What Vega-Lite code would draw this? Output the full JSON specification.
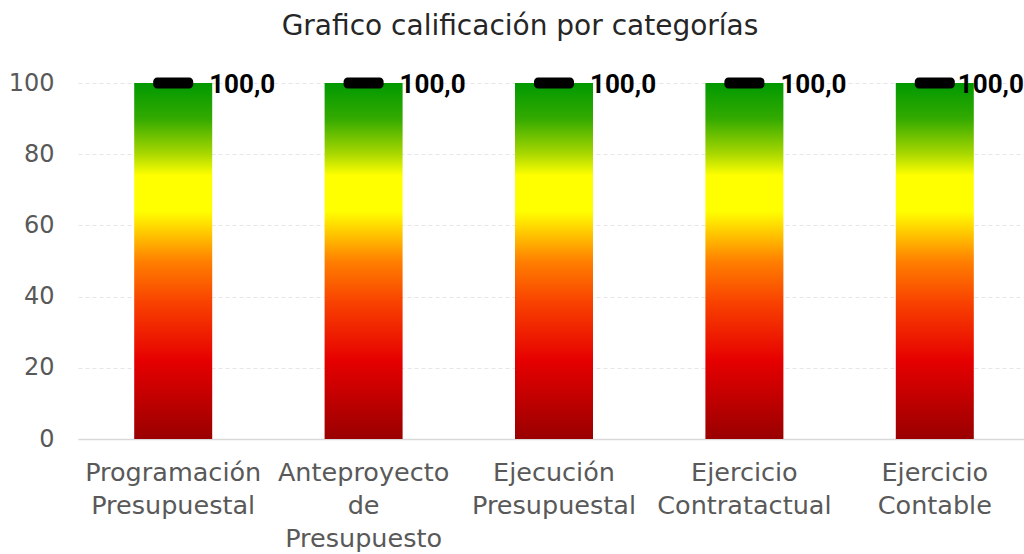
{
  "$schema": "https://vega.github.io/schema/vega-lite/v6.json",
  "autosize": "none",
  "width": 946,
  "height": 356,
  "padding": {"left": 78, "top": 83, "right": 0, "bottom": 115},
  "background": "white",
  "title": {
    "text": "Grafico calificación por categorías",
    "font": "DejaVu Sans",
    "fontSize": 28,
    "fontWeight": "normal",
    "color": "#262626",
    "anchor": "middle",
    "dx": -31,
    "offset": 30
  },
  "data": {
    "values": [
      {"categoria": "Programación Presupuestal", "calificacion": 100, "etiqueta": "100,0"},
      {"categoria": "Anteproyecto de Presupuesto", "calificacion": 100, "etiqueta": "100,0"},
      {"categoria": "Ejecución Presupuestal", "calificacion": 100, "etiqueta": "100,0"},
      {"categoria": "Ejercicio Contratactual", "calificacion": 100, "etiqueta": "100,0"},
      {"categoria": "Ejercicio Contable", "calificacion": 100, "etiqueta": "100,0"}
    ]
  },
  "config": {
    "view": {"stroke": null},
    "axis": {"labelFont": "DejaVu Sans", "labelColor": "#595959", "labelFontSize": 24, "title": null}
  },
  "encoding": {
    "x": {
      "field": "categoria",
      "type": "nominal",
      "sort": null,
      "scale": {"paddingInner": 0, "paddingOuter": 0, "range": [0, 952]},
      "axis": {
        "labelAngle": 0,
        "labelExpr": "split(datum.label, ' ')",
        "labelLineHeight": 33,
        "labelPadding": 21,
        "labelBaseline": "top",
        "labelFontSize": 25.5,
        "ticks": false,
        "domainColor": "#d9d9d9",
        "domainWidth": 1.5,
        "grid": false,
        "labelLimit": 0
      }
    },
    "y": {
      "field": "calificacion",
      "type": "quantitative",
      "scale": {"domain": [0, 100], "nice": false},
      "axis": {
        "values": [0, 20, 40, 60, 80, 100],
        "ticks": false,
        "domain": false,
        "labelPadding": 24,
        "gridColor": "#e6e6e6",
        "gridDash": [4, 3],
        "gridWidth": 1
      }
    }
  },
  "layer": [
    {
      "mark": {
        "type": "bar",
        "size": 78,
        "color": {
          "gradient": "linear",
          "x1": 0, "y1": 0, "x2": 0, "y2": 1,
          "stops": [
            {"offset": 0, "color": "#009900"},
            {"offset": 0.1, "color": "#33aa00"},
            {"offset": 0.2, "color": "#aad800"},
            {"offset": 0.26, "color": "#ffff00"},
            {"offset": 0.36, "color": "#ffff00"},
            {"offset": 0.43, "color": "#ffc000"},
            {"offset": 0.5, "color": "#ff8000"},
            {"offset": 0.62, "color": "#f84000"},
            {"offset": 0.78, "color": "#e60000"},
            {"offset": 1, "color": "#990000"}
          ]
        }
      }
    },
    {
      "mark": {"type": "tick", "size": 40, "thickness": 11, "cornerRadius": 4, "color": "#000000", "opacity": 1}
    },
    {
      "transform": [{"filter": "datum.categoria !== 'Ejercicio Contable'"}],
      "mark": {"type": "text", "align": "left", "baseline": "middle", "dx": 36, "dy": 2, "font": "Roboto", "fontSize": 26, "fontWeight": "bold", "color": "#000000"},
      "encoding": {"text": {"field": "etiqueta"}}
    },
    {
      "transform": [{"filter": "datum.categoria === 'Ejercicio Contable'"}],
      "mark": {"type": "text", "align": "left", "baseline": "middle", "dx": 23, "dy": 2, "font": "Roboto", "fontSize": 26, "fontWeight": "bold", "color": "#000000"},
      "encoding": {"text": {"field": "etiqueta"}}
    }
  ]
}
